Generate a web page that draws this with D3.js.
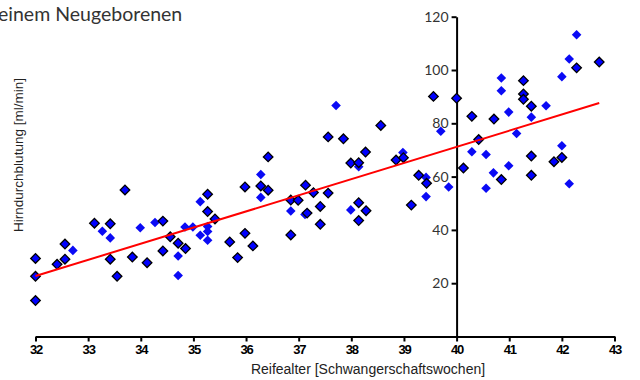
<!DOCTYPE html>
<html>
<head>
<meta charset="utf-8">
<script src="https://cdn.jsdelivr.net/npm/d3@7"></script>
<style>
  body { margin: 0; background: #fff; }
  svg { display: block; }
</style>
</head>
<body>
<div id="chart"></div>
<script>
// Reifealter (weeks) / Hirndurchblutung (ml/min), points drawn with black outline
const outlinedX = [32.0, 32.0, 32.0, 32.41, 32.56, 32.56, 33.12, 33.42, 33.42, 33.55, 33.70, 33.84, 34.12,
  34.42, 34.56, 34.71, 34.85, 34.42, 35.27, 35.27, 35.41, 35.69, 35.84, 35.98, 35.98, 36.13, 36.28, 36.42,
  36.42, 36.85, 36.99, 36.85, 37.13, 37.28, 37.16, 37.41, 37.41, 37.56, 37.56, 37.85, 37.99, 38.14, 38.14,
  38.28, 38.14, 38.27, 38.56, 38.85, 38.99, 39.14, 39.28, 39.43, 39.56, 40.00, 40.13, 40.29, 40.42, 40.71,
  40.85, 41.27, 41.27, 41.27, 41.42, 41.42, 41.42, 41.85, 42.00, 42.28, 42.71];
const outlinedY = [13.5, 22.6, 29.3, 27.1, 34.7, 29.0, 42.5, 42.3, 29.0, 22.6, 55.0, 29.8, 27.7,
  43.3, 37.4, 35.0, 33.0, 32.1, 53.4, 46.9, 44.1, 35.5, 29.6, 56.1, 38.7, 34.0, 56.5, 54.9,
  67.4, 51.2, 51.1, 38.1, 56.8, 54.0, 46.3, 48.8, 42.1, 53.8, 74.9, 74.2, 65.1, 65.2, 50.2,
  47.2, 43.5, 69.2, 79.2, 66.2, 67.1, 49.3, 60.5, 57.5, 90.1, 89.4, 63.2, 82.6, 73.9, 81.6,
  58.9, 96.0, 91.0, 89.0, 86.4, 67.7, 60.5, 65.6, 67.2, 100.8, 103.0];

// points drawn without outline
const plainX = [32.71, 33.27, 33.42, 33.99, 34.27, 34.71, 34.71, 34.84, 34.99, 35.13, 35.27, 35.27, 35.13,
  35.27, 36.28, 36.28, 36.85, 37.12, 37.71, 37.99, 38.14, 38.98, 39.42, 39.42, 39.70, 39.85, 40.29, 40.56,
  40.56, 40.70, 40.85, 40.85, 40.99, 40.99, 41.14, 41.42, 41.70, 42.00, 42.00, 42.14, 42.14, 42.28];
const plainY = [32.3, 39.5, 37.0, 40.8, 42.8, 30.2, 22.9, 41.1, 41.1, 50.6, 41.3, 39.4, 38.0,
  36.1, 60.8, 52.2, 47.1, 45.8, 86.7, 47.5, 63.7, 69.0, 59.7, 52.5, 77.0, 56.1, 69.3, 68.3,
  55.6, 61.4, 97.0, 92.2, 84.2, 64.1, 76.2, 82.3, 86.6, 97.5, 71.6, 104.1, 57.3, 113.2];

// regression line end points
const fitX = [32, 42.71];
const fitY = [22.7, 87.6];

const xTicks = [32, 33, 34, 35, 36, 37, 38, 39, 40, 41, 42, 43];
const yTicks = [20, 40, 60, 80, 100, 120];

const width = 640, height = 380;

const svg = d3.select('#chart').append('svg')
  .attr('width', width)
  .attr('height', height);

const x = d3.scaleLinear().domain([32, 43]).range([35.5, 614.5]);
const y = d3.scaleLinear().domain([0, 120]).range([336.5, 16.7]);

// title, cut off at the left like in the source
svg.append('text')
  .attr('x', -2)
  .attr('y', 21)
  .attr('font-family', 'Lato, sans-serif')
  .attr('font-size', 19.5)
  .attr('fill', '#333')
  .text('einem Neugeborenen');

// x axis
const xAxis = svg.append('g')
  .attr('transform', `translate(0, ${y(0)})`)
  .call(d3.axisBottom(x).tickValues(xTicks).tickSize(5).tickSizeOuter(0).tickPadding(3));
xAxis.select('.domain').attr('stroke-width', 2);
xAxis.selectAll('.tick line').attr('stroke-width', 2);
xAxis.selectAll('.tick text')
  .attr('font-family', '"Liberation Sans", Arial, sans-serif')
  .attr('font-size', 13)
  .attr('font-weight', 'bold')
  .attr('letter-spacing', -1.2)
  .attr('fill', '#000');

// y axis at x = 40
const yAxis = svg.append('g')
  .attr('transform', `translate(${x(40)}, 0)`)
  .call(d3.axisLeft(y).tickValues(yTicks).tickSize(5).tickSizeOuter(0).tickPadding(3));
yAxis.select('.domain').attr('stroke-width', 2);
yAxis.selectAll('.tick line').attr('stroke-width', 2);
yAxis.selectAll('.tick text')
  .attr('font-family', 'Lato, sans-serif')
  .attr('font-size', 14)
  .attr('fill', '#333');

// axis titles
svg.append('text')
  .attr('x', 368)
  .attr('y', 374)
  .attr('text-anchor', 'middle')
  .attr('font-family', '"Liberation Sans", Arial, sans-serif')
  .attr('font-size', 14)
  .attr('fill', '#222')
  .text('Reifealter [Schwangerschaftswochen]');

svg.append('text')
  .attr('transform', 'translate(23, 155) rotate(-90)')
  .attr('text-anchor', 'middle')
  .attr('font-family', '"Liberation Sans", Arial, sans-serif')
  .attr('font-size', 13.5)
  .attr('fill', '#222')
  .text('Hirndurchblutung [ml/min]');

// points
const diamond = d3.symbol().type(d3.symbolSquare).size(46);

const plainData = plainX.map((v, i) => ({x: v, y: plainY[i]}));
const outlinedData = outlinedX.map((v, i) => ({x: v, y: outlinedY[i]}));

svg.append('g').selectAll('path')
  .data(plainData)
  .enter()
  .append('path')
  .attr('d', diamond)
  .attr('transform', d => `translate(${x(d.x)}, ${y(d.y)}) rotate(45)`)
  .attr('fill', '#0a0af5');

svg.append('g').selectAll('path')
  .data(outlinedData)
  .enter()
  .append('path')
  .attr('d', diamond)
  .attr('transform', d => `translate(${x(d.x)}, ${y(d.y)}) rotate(45)`)
  .attr('fill', '#0000ff')
  .attr('stroke', '#000')
  .attr('stroke-width', 1.3);

// regression line
svg.append('path')
  .datum(fitX.map((v, i) => [v, fitY[i]]))
  .attr('d', d3.line().x(d => x(d[0])).y(d => y(d[1])))
  .attr('fill', 'none')
  .attr('stroke', '#ff0000')
  .attr('stroke-width', 2);
</script>
</body>
</html>
